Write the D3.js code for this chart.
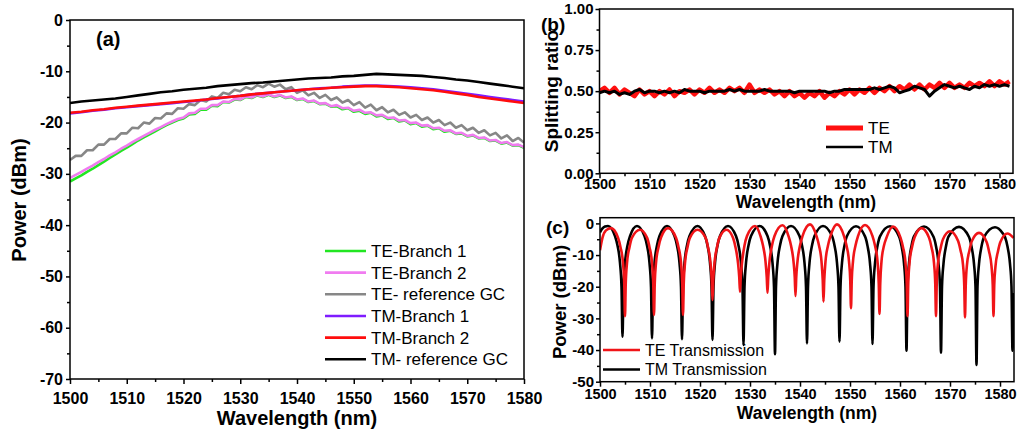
<!DOCTYPE html>
<html>
<head>
<meta charset="utf-8">
<script src="https://cdn.jsdelivr.net/npm/d3@7"></script>
<style>
  body { margin: 0; background: #fff; }
  svg { display: block; font-family: "Liberation Sans", Arial, sans-serif; }
  .tick line { stroke: #000; stroke-width: 1.5; }
  .domain { display: none; }
  .tick text { font-weight: bold; fill: #000; }
</style>
</head>
<body>
<svg id="fig" width="1017" height="438"></svg>
<script>
// ---- panel (a): grating coupler spectra, dBm ----
const wlTE = d3.range(1500, 1581, 1);
const wlTM = d3.range(1500, 1581, 2);

const teBranch1 = [
  -31.5,-30.9,-30.3,-29.6,-29.0,-28.3,-27.6,-26.9,-26.2,-25.5,
  -24.9,-24.2,-23.5,-22.9,-22.3,-21.7,-21.1,-20.5,-20.0,-19.5,
  -19.2,-18.4,-18.3,-17.5,-17.5,-16.7,-16.8,-16.0,-16.1,-15.5,
  -15.6,-15.0,-15.2,-14.7,-15.0,-14.6,-15.0,-14.7,-15.2,-15.0,
  -15.6,-15.4,-16.0,-15.8,-16.4,-16.3,-16.9,-16.8,-17.4,-17.2,
  -17.9,-17.7,-18.3,-18.1,-18.8,-18.6,-19.3,-19.1,-19.8,-19.6,
  -20.3,-20.1,-20.8,-20.6,-21.3,-21.1,-21.8,-21.6,-22.2,-22.1,
  -22.7,-22.5,-23.1,-23.0,-23.6,-23.5,-24.1,-23.9,-24.5,-24.4,
  -24.9];
const teBranch2 = [
  -30.8,-30.2,-29.6,-29.0,-28.4,-27.7,-27.1,-26.4,-25.8,-25.1,
  -24.5,-23.8,-23.2,-22.6,-22.0,-21.4,-20.9,-20.3,-19.8,-19.3,
  -19.0,-18.2,-18.1,-17.3,-17.3,-16.6,-16.6,-15.9,-16.0,-15.4,
  -15.5,-14.9,-15.1,-14.6,-14.9,-14.5,-14.9,-14.6,-15.1,-14.9,
  -15.5,-15.3,-15.9,-15.7,-16.3,-16.2,-16.8,-16.6,-17.2,-17.1,
  -17.7,-17.5,-18.1,-18.0,-18.6,-18.5,-19.1,-19.0,-19.6,-19.5,
  -20.1,-20.0,-20.6,-20.5,-21.1,-21.0,-21.6,-21.5,-22.1,-22.0,
  -22.6,-22.4,-23.0,-22.9,-23.5,-23.4,-24.0,-23.8,-24.4,-24.3,
  -24.8];
const teRefGC = [
  -27.3,-26.5,-26.5,-25.4,-25.4,-24.3,-24.3,-23.2,-23.2,-22.1,
  -22.1,-21.0,-21.1,-20.0,-20.2,-19.1,-19.2,-18.2,-18.3,-17.2,
  -17.3,-16.4,-16.6,-15.6,-15.9,-14.9,-15.2,-14.2,-14.5,-13.6,
  -13.9,-13.1,-13.5,-12.7,-13.1,-12.4,-13.0,-12.6,-13.5,-13.1,
  -14.2,-13.7,-14.7,-14.2,-15.2,-14.6,-15.6,-15.1,-16.1,-15.6,
  -16.6,-16.0,-17.1,-16.5,-17.6,-17.0,-18.0,-17.5,-18.5,-18.0,
  -19.0,-18.5,-19.5,-19.0,-20.0,-19.5,-20.5,-20.0,-21.0,-20.5,
  -21.5,-21.0,-22.0,-21.5,-22.5,-22.0,-23.1,-22.5,-23.6,-23.0,
  -23.9];
const tmBranch1 = [
  -18.2,-18.0,-17.7,-17.5,-17.2,-17.0,-16.8,-16.6,-16.4,-16.2,
  -16.0,-15.8,-15.5,-15.3,-15.0,-14.8,-14.5,-14.3,-14.1,-13.9,
  -13.7,-13.5,-13.3,-13.2,-13.0,-12.9,-12.8,-12.8,-12.9,-13.0,
  -13.1,-13.3,-13.5,-13.8,-14.1,-14.4,-14.7,-15.0,-15.3,-15.6,
  -15.9];
const tmBranch2 = [
  -18.1,-17.9,-17.6,-17.4,-17.1,-16.9,-16.7,-16.5,-16.3,-16.1,
  -15.9,-15.7,-15.5,-15.2,-15.0,-14.8,-14.5,-14.3,-14.1,-13.9,
  -13.7,-13.5,-13.4,-13.2,-13.1,-13.0,-12.9,-12.9,-13.0,-13.1,
  -13.3,-13.5,-13.7,-14.0,-14.3,-14.6,-15.0,-15.3,-15.6,-15.9,
  -16.2];
const tmRefGC = [
  -16.2,-15.9,-15.7,-15.5,-15.3,-15.0,-14.7,-14.4,-14.1,-13.9,
  -13.6,-13.4,-13.2,-12.9,-12.7,-12.5,-12.3,-12.2,-12.0,-11.8,
  -11.6,-11.4,-11.3,-11.2,-11.0,-10.9,-10.7,-10.5,-10.6,-10.7,
  -10.8,-10.9,-11.1,-11.3,-11.6,-11.8,-12.1,-12.4,-12.7,-13.0,
  -13.3];

const seriesA = [
  { name: "TE-Branch 1", color: "#22e622", wl: wlTE, v: teBranch1 },
  { name: "TE-Branch 2", color: "#f07cf0", wl: wlTE, v: teBranch2 },
  { name: "TE- reference GC", color: "#878787", wl: wlTE, v: teRefGC },
  { name: "TM-Branch 1", color: "#7f1cff", wl: wlTM, v: tmBranch1 },
  { name: "TM-Branch 2", color: "#ff0d0d", wl: wlTM, v: tmBranch2 },
  { name: "TM- reference GC", color: "#000000", wl: wlTM, v: tmRefGC }
];

// ---- panel (b): splitting ratio ----
const wlRatio = d3.range(1500, 1583, 1);
const ratioTE = [
  0.50,0.52,0.49,0.52,0.48,0.51,0.49,0.47,0.51,0.48,
  0.50,0.47,0.50,0.48,0.51,0.47,0.50,0.49,0.51,0.48,
  0.51,0.49,0.52,0.49,0.51,0.49,0.52,0.50,0.52,0.49,
  0.54,0.49,0.51,0.49,0.51,0.48,0.50,0.47,0.50,0.47,
  0.49,0.46,0.49,0.47,0.50,0.46,0.49,0.47,0.50,0.48,
  0.51,0.48,0.51,0.49,0.52,0.49,0.52,0.50,0.53,0.50,
  0.53,0.51,0.54,0.51,0.54,0.51,0.54,0.52,0.55,0.52,
  0.55,0.52,0.54,0.52,0.55,0.53,0.55,0.53,0.56,0.53,
  0.56,0.54,0.56];
const ratioTM = [
  0.49,0.50,0.49,0.50,0.48,0.49,0.48,0.50,0.51,0.49,
  0.50,0.50,0.49,0.50,0.49,0.50,0.49,0.51,0.50,0.50,
  0.50,0.49,0.50,0.50,0.50,0.50,0.51,0.50,0.51,0.50,
  0.50,0.50,0.50,0.51,0.50,0.50,0.50,0.50,0.50,0.49,
  0.50,0.50,0.50,0.50,0.50,0.50,0.49,0.50,0.50,0.51,
  0.51,0.51,0.51,0.51,0.51,0.52,0.51,0.52,0.53,0.52,
  0.49,0.50,0.51,0.53,0.52,0.51,0.47,0.50,0.52,0.54,
  0.53,0.52,0.53,0.52,0.51,0.53,0.52,0.54,0.53,0.54,
  0.53,0.54,0.53];

// ---- panel (c): MZI transmission, [wavelength nm, dBm] ----
const tmTransmission = [
  [1500,-2.8],[1500.5,-1.6],[1501,-1.0],[1501.6,-0.8],
  [1503.0,-4],[1503.5,-7],[1504.0,-12.5],[1504.3,-20],[1504.5,-35.8],[1504.7,-20],[1505.0,-12.5],[1505.5,-7],[1506.0,-4],[1507.4,-0.8],
  [1508.9,-4],[1509.4,-7],[1509.9,-12.5],[1510.2,-20],[1510.4,-36.3],[1510.6,-20],[1510.9,-12.5],[1511.4,-7],[1511.9,-4],[1513.4,-0.8],
  [1514.9,-4],[1515.4,-7],[1515.9,-12.5],[1516.2,-20],[1516.4,-36.6],[1516.6,-20],[1516.9,-12.5],[1517.4,-7],[1517.9,-4],[1519.5,-0.8],
  [1521.0,-4],[1521.5,-7],[1522.0,-12.5],[1522.3,-20],[1522.5,-36.8],[1522.7,-20],[1523.0,-12.5],[1523.5,-7],[1524.0,-4],[1525.6,-0.8],
  [1527.2,-4],[1527.7,-7],[1528.2,-12.5],[1528.5,-20],[1528.7,-38.4],[1528.9,-20],[1529.2,-12.5],[1529.7,-7],[1530.2,-4],[1531.9,-0.8],
  [1533.5,-4],[1534.0,-7],[1534.5,-12.5],[1534.8,-20],[1535.0,-41.3],[1535.2,-20],[1535.5,-12.5],[1536.0,-7],[1536.5,-4],[1538.2,-0.8],
  [1539.9,-4],[1540.4,-7],[1540.9,-12.5],[1541.2,-20],[1541.4,-37.9],[1541.6,-20],[1541.9,-12.5],[1542.4,-7],[1542.9,-4],[1544.6,-0.8],
  [1546.4,-4],[1546.9,-7],[1547.4,-12.5],[1547.7,-20],[1547.9,-37.4],[1548.1,-20],[1548.4,-12.5],[1548.9,-7],[1549.4,-4],[1551.2,-0.9],
  [1553.0,-4.1],[1553.5,-7.1],[1554.0,-12.6],[1554.3,-20],[1554.5,-38.1],[1554.7,-20],[1555.0,-12.6],[1555.5,-7.1],[1556.0,-4.1],[1558.0,-0.9],
  [1559.8,-4.1],[1560.3,-7.1],[1560.8,-12.6],[1561.1,-20],[1561.3,-40.2],[1561.5,-20],[1561.8,-12.6],[1562.3,-7.1],[1562.8,-4.1],[1564.8,-1.0],
  [1566.7,-4.2],[1567.2,-7.2],[1567.7,-12.7],[1568.0,-20],[1568.2,-40.8],[1568.4,-20],[1568.7,-12.7],[1569.2,-7.2],[1569.7,-4.2],[1571.8,-1.1],
  [1573.8,-4.3],[1574.3,-7.3],[1574.8,-12.8],[1575.1,-20],[1575.3,-44.7],[1575.5,-20],[1575.8,-12.8],[1576.3,-7.3],[1576.8,-4.3],[1579.0,-1.2],
  [1580.5,-3],[1581.0,-4.3],[1581.5,-7.3],[1582.0,-12.8],[1582.3,-20],[1582.5,-40.2],[1582.7,-22]
];
const teTransmission = [
  [1500,-8.5],[1500.5,-4.5],[1501.2,-2.2],[1502.2,-1.5],
  [1503.6,-4.5],[1504.1,-7.5],[1504.6,-12.5],[1504.85,-19],[1505.0,-29.3],[1505.15,-19],[1505.4,-12.5],[1505.9,-7.5],[1506.4,-4.5],[1508.0,-2.0],
  [1509.4,-4.5],[1509.9,-7.5],[1510.4,-12.5],[1510.65,-19],[1510.8,-28.9],[1510.95,-19],[1511.2,-12.5],[1511.7,-7.5],[1512.2,-4.5],[1513.6,-1.5],
  [1515.2,-4.5],[1515.7,-7.5],[1516.2,-12.5],[1516.45,-19],[1516.6,-28.9],[1516.75,-19],[1517.0,-12.5],[1517.5,-7.5],[1518.0,-4.5],[1519.5,-2.0],
  [1521.1,-4.5],[1521.6,-7.5],[1522.1,-12.5],[1522.35,-18],[1522.5,-24.2],[1522.65,-18],[1522.9,-12.5],[1523.4,-7.5],[1523.9,-4.5],[1525.3,-2.0],
  [1526.6,-4.5],[1527.1,-7.5],[1527.6,-12.5],[1527.85,-17],[1528.0,-21.6],[1528.15,-17],[1528.4,-12.5],[1528.9,-7],[1529.4,-4],[1531.0,-0.8],
  [1532.1,-4],[1532.6,-7],[1533.1,-12],[1533.35,-17],[1533.5,-21.9],[1533.65,-17],[1533.9,-12],[1534.4,-7],[1534.9,-4],[1536.5,-0.6],
  [1537.7,-4],[1538.2,-7],[1538.7,-12],[1538.95,-17],[1539.1,-22.9],[1539.25,-17],[1539.5,-12],[1540.0,-7],[1540.5,-4],[1542.0,-0.3],
  [1543.3,-4],[1543.8,-7],[1544.3,-12],[1544.55,-18],[1544.7,-24.7],[1544.85,-18],[1545.1,-12],[1545.6,-7],[1546.1,-4],[1547.4,-0.3],
  [1548.8,-4],[1549.3,-7],[1549.8,-12],[1550.05,-18],[1550.2,-26.8],[1550.35,-18],[1550.6,-12],[1551.1,-7],[1551.6,-4],[1553.0,-0.5],
  [1554.5,-4],[1555.0,-7],[1555.5,-12],[1555.75,-19],[1555.9,-28.6],[1556.05,-19],[1556.3,-12],[1556.8,-7],[1557.3,-4.5],[1558.6,-1.0],
  [1560.1,-4.5],[1560.6,-7.5],[1561.1,-12.5],[1561.35,-19],[1561.5,-29.3],[1561.65,-19],[1561.9,-12.5],[1562.4,-7.5],[1562.9,-4.5],[1564.3,-1.5],
  [1565.8,-4.5],[1566.3,-7.5],[1566.8,-12.5],[1567.05,-19],[1567.2,-29.3],[1567.35,-19],[1567.6,-12.5],[1568.1,-8],[1568.6,-5],[1570.0,-2.5],
  [1571.6,-5.5],[1572.1,-8.5],[1572.6,-13],[1572.85,-19.5],[1573.0,-29.7],[1573.15,-19.5],[1573.4,-13],[1573.9,-8.5],[1574.4,-5.5],[1575.8,-3.0],
  [1577.3,-5.8],[1577.8,-8.8],[1578.3,-13.5],[1578.55,-19.5],[1578.7,-29.3],[1578.85,-19.5],[1579.1,-13.5],[1579.6,-8.8],[1580.1,-5.8],[1581.5,-3.2],[1582.7,-4.6]
];

// ticks
const wlMajor = [1500, 1510, 1520, 1530, 1540, 1550, 1560, 1570, 1580];
const wlMinor = [1505, 1515, 1525, 1535, 1545, 1555, 1565, 1575];
const aMajor = [0, -10, -20, -30, -40, -50, -60, -70];
const aMinor = [-5, -15, -25, -35, -45, -55, -65];
const bMajor = [0, 0.25, 0.5, 0.75, 1];
const bMinor = [0.125, 0.375, 0.625, 0.875];
const cMajor = [0, -10, -20, -30, -40, -50];
const cMinor = [-5, -15, -25, -35, -45];

const svg = d3.select("#fig");
let clipId = 0;

// draws box, major and minor ticks; returns clipped group for the data
const frame = (x, y, o) => {
  const g = svg.append("g");
  const [x0, x1] = x.range();
  const [y0, y1] = y.range();
  g.append("g").attr("transform", `translate(0,${y0})`)
    .call(d3.axisBottom(x).tickValues(wlMinor).tickSize(3).tickFormat("").tickSizeOuter(0));
  g.append("g").attr("transform", `translate(0,${y0})`)
    .call(d3.axisBottom(x).tickValues(wlMajor).tickSize(5).tickPadding(o.xPad)
      .tickFormat((d) => String(d)).tickSizeOuter(0))
    .selectAll("text").style("font-size", (o.xFont || o.font) + "px");
  g.append("g").attr("transform", `translate(${x0},0)`)
    .call(d3.axisLeft(y).tickValues(o.yMinor).tickSize(3).tickFormat("").tickSizeOuter(0));
  g.append("g").attr("transform", `translate(${x0},0)`)
    .call(d3.axisLeft(y).tickValues(o.yMajor).tickSize(4).tickPadding(o.yPad).tickFormat(o.yFmt).tickSizeOuter(0))
    .selectAll("text").style("font-size", o.font + "px");
  const id = "clip" + (clipId++);
  g.append("clipPath").attr("id", id).append("rect")
    .attr("x", x0).attr("y", y1).attr("width", x1 - x0).attr("height", y0 - y1);
  const inner = g.append("g").attr("clip-path", `url(#${id})`);
  g.append("rect").attr("x", x0).attr("y", y1).attr("width", x1 - x0).attr("height", y0 - y1)
    .attr("fill", "none").attr("stroke", "#000").attr("stroke-width", 1.5);
  return inner;
};

const label = (txt, x, y, size, opts = {}) => {
  const t = svg.append("text").attr("x", x).attr("y", y)
    .attr("font-size", size).attr("font-weight", opts.weight || "bold")
    .attr("text-anchor", opts.anchor || "start").text(txt);
  if (opts.rotate) t.attr("transform", `rotate(-90,${x},${y})`);
  return t;
};

// plain hyphen minus, as in the original figure
const intFmt = (d) => String(d);

// ---------- (a) ----------
const xA = d3.scaleLinear().domain([1500, 1580]).range([70, 524]);
const yA = d3.scaleLinear().domain([-70, 0]).range([379, 20]);
const gA = frame(xA, yA, { yMajor: aMajor, yMinor: aMinor, yFmt: intFmt, font: 16, xPad: 9, yPad: 3 });

seriesA.forEach((s) => {
  const pts = s.wl.map((w, i) => [w, s.v[i]]);
  gA.append("path").datum(pts)
    .attr("fill", "none").attr("stroke", s.color).attr("stroke-width", 2.6)
    .attr("stroke-linejoin", "round")
    .attr("d", d3.line().x((d) => xA(d[0])).y((d) => yA(d[1])));
});

const legA = svg.append("g").selectAll("g").data(seriesA).enter().append("g")
  .attr("transform", (d, i) => `translate(325,${251 + i * 21.65})`);
legA.append("line").attr("x1", 0).attr("x2", 41)
  .attr("stroke", (d) => d.color).attr("stroke-width", 2.6);
legA.append("text").attr("x", 46).attr("dy", "0.36em").attr("font-size", 17).text((d) => d.name);

label("(a)", 96, 46, 20);
label("Wavelength (nm)", 297, 425, 20, { anchor: "middle" });
label("Power (dBm)", 26, 200, 20, { anchor: "middle", rotate: true });

// ---------- (b) ----------
const xB = d3.scaleLinear().domain([1500, 1582.7]).range([599.5, 1013]);
const yB = d3.scaleLinear().domain([0, 1]).range([173.3, 9]);
const gB = frame(xB, yB, { yMajor: bMajor, yMinor: bMinor, yFmt: (d) => d.toFixed(2), font: 15, xFont: 14.5, xPad: 0, yPad: 2 });
const lineB = d3.line().x((d) => xB(d[0])).y((d) => yB(d[1]));

gB.append("path").datum(wlRatio.map((w, i) => [w, ratioTE[i]]))
  .attr("fill", "none").attr("stroke", "#ff1010").attr("stroke-width", 4.5)
  .attr("stroke-linejoin", "round").attr("d", lineB);
gB.append("path").datum(wlRatio.map((w, i) => [w, ratioTM[i]]))
  .attr("fill", "none").attr("stroke", "#000").attr("stroke-width", 3)
  .attr("stroke-linejoin", "round").attr("d", lineB);

const legB = [{ name: "TE", color: "#ff1010", w: 5 }, { name: "TM", color: "#000", w: 2.6 }];
const gLegB = svg.append("g").selectAll("g").data(legB).enter().append("g")
  .attr("transform", (d, i) => `translate(826,${128 + i * 19})`);
gLegB.append("line").attr("x1", 0).attr("x2", 37).attr("stroke", (d) => d.color).attr("stroke-width", (d) => d.w);
gLegB.append("text").attr("x", 42).attr("dy", "0.36em").attr("font-size", 17).text((d) => d.name);

label("(b)", 541, 31, 19);
label("Wavelength (nm)", 806, 208, 17.5, { anchor: "middle" });
label("Splitting ratio", 558, 91, 19, { anchor: "middle", rotate: true });

// ---------- (c) ----------
const xC = d3.scaleLinear().domain([1500, 1582.8]).range([600, 1014]);
const yC = d3.scaleLinear().domain([-50, 1.8]).range([381.7, 217.7]);
const gC = frame(xC, yC, { yMajor: cMajor, yMinor: cMinor, yFmt: intFmt, font: 15, xFont: 14.5, xPad: 2, yPad: 2 });
const lineC = d3.line().curve(d3.curveMonotoneX).x((d) => xC(d[0])).y((d) => yC(d[1]));

gC.append("path").datum(tmTransmission)
  .attr("fill", "none").attr("stroke", "#000").attr("stroke-width", 2.6).attr("d", lineC);
gC.append("path").datum(teTransmission)
  .attr("fill", "none").attr("stroke", "#f01418").attr("stroke-width", 2.6).attr("d", lineC);

const legC = [{ name: "TE Transmission", color: "#f01418" }, { name: "TM Transmission", color: "#000" }];
const gLegC = svg.append("g").selectAll("g").data(legC).enter().append("g")
  .attr("transform", (d, i) => `translate(603,${350 + i * 19.5})`);
gLegC.append("line").attr("x1", 0).attr("x2", 37).attr("stroke", (d) => d.color).attr("stroke-width", 2.6);
gLegC.append("text").attr("x", 42).attr("dy", "0.36em").attr("font-size", 16).text((d) => d.name);

label("(c)", 546, 234, 19);
label("Wavelength (nm)", 807, 419, 17.5, { anchor: "middle" });
label("Power (dBm)", 566, 302, 18.5, { anchor: "middle", rotate: true });
</script>
</body>
</html>
